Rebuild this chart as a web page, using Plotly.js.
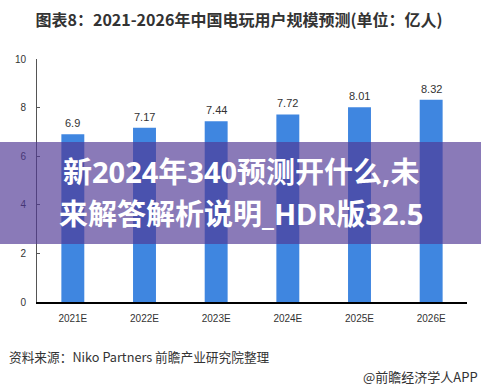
<!DOCTYPE html>
<html>
<head>
<meta charset="utf-8">
<script src="https://cdn.plot.ly/plotly-3.0.1.min.js"></script>
<style>
html,body{margin:0;padding:0;background:#fff;}
#chart{width:481px;height:388px;}
</style>
</head>
<body>
<div id="chart"></div>
<script>
const categories = ["2021E","2022E","2023E","2024E","2025E","2026E"];
const users = [6.9, 7.17, 7.44, 7.72, 8.01, 8.32];
const valueLabels = ["6.9","7.17","7.44","7.72","8.01","8.32"];
const yTicks = [0, 2, 4, 6, 8, 10];

const titleText = "图表8：2021-2026年中国电玩用户规模预测(单位：亿人)";
const bannerLines = ["新2024年340预测开什么,未", "来解答解析说明_HDR版32.5"];
const sourceText = "资料来源：Niko Partners 前瞻产业研究院整理";
const brandText = "@前瞻经济学人APP";

const CJK = '"Noto Sans CJK SC", "Noto Sans", sans-serif';
const BAN = '"Noto Sans", "Noto Sans CJK SC", sans-serif';
const LAT = '"Liberation Sans", "Noto Sans", sans-serif';

const W = 481, H = 388;
const M = {l: 37, r: 14, t: 59, b: 86};
const PW = W - M.l - M.r, PH = H - M.t - M.b;
const px = x => (x - M.l) / PW;
const py = y => (H - M.b - y) / PH;

const trace = {
  type: 'bar',
  x: categories,
  y: users,
  marker: {color: '#3f86e0'},
  hoverinfo: 'skip'
};

const annotations = categories.map((c, i) => ({
  x: c, y: users[i], xref: 'x', yref: 'y',
  text: valueLabels[i], showarrow: false,
  yanchor: 'bottom', yshift: 3,
  font: {family: LAT, size: 11, color: '#333'}
}));

const bannerY = [171, 213.5];
bannerLines.forEach((t, i) => annotations.push({
  xref: 'paper', yref: 'paper', x: px(240.5), y: py(bannerY[i]), text: t,
  showarrow: false, xanchor: 'center', yanchor: 'middle',
  font: {family: BAN, size: 29, color: '#fff', weight: 'bold'}
}));

annotations.push(
  {xref: 'paper', yref: 'paper', x: px(7), y: py(356), text: sourceText,
   showarrow: false, xanchor: 'left', yanchor: 'middle',
   font: {family: CJK, size: 12.7, color: '#333'}},
  {xref: 'paper', yref: 'paper', x: px(480), y: py(376), text: brandText,
   showarrow: false, xanchor: 'right', yanchor: 'middle',
   font: {family: CJK, size: 13, color: '#333'}}
);

const layout = {
  width: W, height: H,
  margin: M,
  paper_bgcolor: '#fff', plot_bgcolor: '#fff',
  showlegend: false,
  bargap: 0.68,
  title: {
    text: titleText, xref: 'container', yref: 'container',
    x: 239 / W, y: 1 - 20 / H, xanchor: 'center', yanchor: 'middle',
    font: {family: CJK, size: 16, color: '#333', weight: 'bold'}
  },
  xaxis: {
    type: 'category',
    showline: true, linecolor: '#000', linewidth: 1.5,
    ticks: '', showgrid: false, zeroline: false,
    tickfont: {family: LAT, size: 10, color: '#333'},
    ticklabelstandoff: 6
  },
  yaxis: {
    range: [0, 10], tickvals: yTicks, ticktext: yTicks.map(String),
    showline: true, linecolor: '#555', linewidth: 1,
    ticks: 'inside', ticklen: 3, tickcolor: '#555',
    showgrid: false, zeroline: false,
    tickfont: {family: LAT, size: 10, color: '#333'},
    ticklabelstandoff: 8
  },
  shapes: [{
    type: 'rect', xref: 'paper', yref: 'paper', layer: 'above',
    x0: px(-5), x1: px(490), y0: py(142), y1: py(244),
    fillcolor: 'rgba(81,57,149,0.67)', line: {width: 0}
  }],
  annotations: annotations
};

Plotly.newPlot('chart', [trace], layout, {displayModeBar: false, staticPlot: true});
</script>
</body>
</html>
